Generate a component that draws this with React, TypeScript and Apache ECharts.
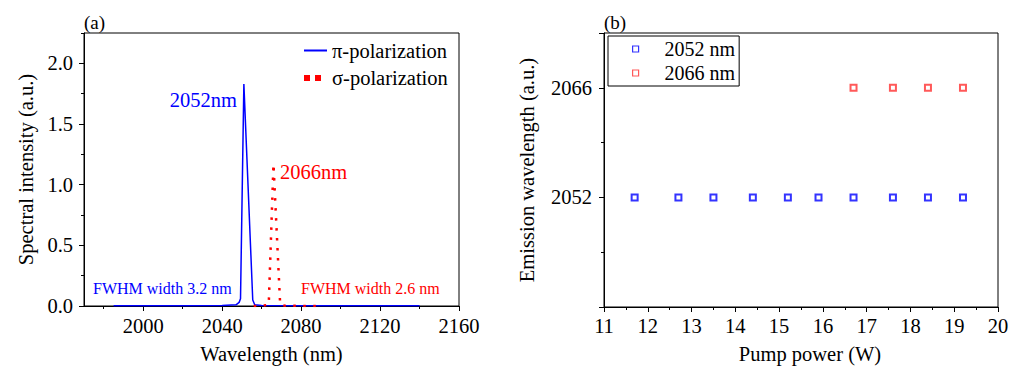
import React, { useEffect, useRef } from "react";
import * as echarts from "echarts";

// ---- Panel (a): spectra ----
const piWavelength = [1985, 2000, 2020, 2040, 2047, 2048.6, 2049.3, 2051, 2055.5, 2056.5, 2060, 2080, 2100, 2120, 2140];
const piIntensity = [0.002, 0.002, 0.003, 0.004, 0.01, 0.03, 0.06, 1.83, 0.05, 0.01, 0.004, 0.003, 0.002, 0.002, 0.002];
const sigmaWavelength = [2056, 2060, 2063.6, 2066, 2069.4, 2072, 2090];
const sigmaIntensity = [0, 0.002, 0.01, 1.17, 0.01, 0.002, 0];
const spectrumTicks = [2000, 2040, 2080, 2120, 2160];
const spectrumMinorTicks = [1980, 2020, 2060, 2100, 2140];
const intensityTicks = [0, 0.5, 1.0, 1.5, 2.0];
const intensityMinorTicks = [0.25, 0.75, 1.25, 1.75, 2.25];

// ---- Panel (b): emission wavelength vs pump power ----
const pumpPower2052 = [11.7, 12.7, 13.5, 14.4, 15.2, 15.9, 16.7, 17.6, 18.4, 19.2];
const emission2052 = [2052, 2052, 2052, 2052, 2052, 2052, 2052, 2052, 2052, 2052];
const pumpPower2066 = [16.7, 17.6, 18.4, 19.2];
const emission2066 = [2066, 2066, 2066, 2066];
const wavelengthLabels = [2052, 2066];

const FONT = "'Liberation Serif', 'Times New Roman', serif";
const BIG = 20.5;
const BLUE = "#0000ff";
const RED = "#ff0000";
const RED2 = "#ff3030";

const zip = (a: number[], b: number[]) => a.map((v, i) => [v, b[i]]);

export default function App() {
  const ref = useRef<HTMLDivElement>(null);
  useEffect(() => {
    document.body.style.margin = "0";
    const chart = echarts.init(ref.current!, null, { renderer: "svg" });
    const axisLine = { show: true, lineStyle: { color: "#000", width: 1 } };
    const nameStyle = { fontFamily: FONT, fontSize: BIG, color: "#000" };
    const labelStyle = { fontFamily: FONT, fontSize: BIG, color: "#000" };
    const option: any = {
      animation: false,
      backgroundColor: "#fff",
      textStyle: { fontFamily: FONT },
      grid: [
        { left: 84, top: 33, width: 375, height: 276, show: true, borderColor: "#000", borderWidth: 1 },
        { left: 604, top: 33, width: 394, height: 276, show: true, borderColor: "#000", borderWidth: 1 },
      ],
      xAxis: [
        {
          gridIndex: 0, type: "value", min: 1970, max: 2160, position: "bottom",
          name: "Wavelength (nm)", nameLocation: "middle", nameGap: 37, nameTextStyle: nameStyle,
          axisLine,
          axisTick: { show: true, inside: false, length: 5, customValues: spectrumTicks, lineStyle: { color: "#000" } },
          axisLabel: { ...labelStyle, margin: 9, customValues: spectrumTicks, formatter: (v: number) => String(v) },
          splitLine: { show: false },
        },
        {
          gridIndex: 0, type: "value", min: 1970, max: 2160, position: "bottom",
          axisLine: { show: false },
          axisTick: { show: true, inside: false, length: 3, customValues: spectrumMinorTicks, lineStyle: { color: "#000" } },
          axisLabel: { show: false },
          splitLine: { show: false },
        },
        {
          gridIndex: 1, type: "value", min: 11, max: 20, interval: 1, position: "bottom",
          name: "Pump power (W)", nameLocation: "middle", nameGap: 36,
          nameTextStyle: { ...nameStyle, padding: [0, 0, 0, 18] },
          axisLine,
          axisTick: { show: true, inside: false, length: 5, lineStyle: { color: "#000" } },
          minorTick: { show: true, splitNumber: 2, length: 3, lineStyle: { color: "#000" } },
          axisLabel: { ...labelStyle, margin: 8, formatter: (v: number) => String(v) },
          splitLine: { show: false },
          minorSplitLine: { show: false },
        },
      ],
      yAxis: [
        {
          gridIndex: 0, type: "value", min: 0, max: 2.25, position: "left",
          name: "Spectral intensity (a.u.)", nameLocation: "middle", nameGap: 48, nameTextStyle: nameStyle,
          axisLine,
          axisTick: { show: true, inside: false, length: 5, customValues: intensityTicks, lineStyle: { color: "#000" } },
          axisLabel: { ...labelStyle, margin: 11, customValues: intensityTicks, formatter: (v: number) => v.toFixed(1) },
          splitLine: { show: false },
        },
        {
          gridIndex: 0, type: "value", min: 0, max: 2.25, position: "left",
          axisLine: { show: false },
          axisTick: { show: true, inside: false, length: 3, customValues: intensityMinorTicks, lineStyle: { color: "#000" } },
          axisLabel: { show: false },
          splitLine: { show: false },
        },
        {
          gridIndex: 1, type: "value", min: 2038, max: 2073, interval: 14, position: "left",
          name: "Emission wavelength (a.u.)", nameLocation: "middle", nameGap: 67, nameTextStyle: nameStyle,
          axisLine,
          axisTick: { show: true, inside: false, length: 5, lineStyle: { color: "#000" } },
          minorTick: { show: true, splitNumber: 2, length: 3, lineStyle: { color: "#000" } },
          axisLabel: {
            ...labelStyle, margin: 12,
            formatter: (v: number) => (wavelengthLabels.indexOf(Math.round(v)) >= 0 ? String(Math.round(v)) : ""),
          },
          splitLine: { show: false },
          minorSplitLine: { show: false },
        },
      ],
      legend: [
        {
          data: [
            { name: "π-polarization", itemStyle: { opacity: 0 } },
            { name: "σ-polarization", itemStyle: { opacity: 0 }, lineStyle: { type: [6, 5, 6, 6], width: 6, color: RED } },
          ],
          orient: "vertical", left: 301, top: 40, padding: 0,
          itemWidth: 23, itemHeight: 14, itemGap: 6.5,
          textStyle: { fontFamily: FONT, fontSize: BIG, color: "#000" },
        },
        {
          data: [
            { name: "2052 nm", icon: "rect", itemStyle: { color: "#fff", borderColor: BLUE, borderWidth: 1.2 } },
            { name: "2066 nm", icon: "rect", itemStyle: { color: "#fff", borderColor: RED2, borderWidth: 1.2 } },
          ],
          orient: "vertical", left: 608, top: 36, padding: [3, 4, 3, 24],
          itemWidth: 6, itemHeight: 6, itemGap: 4,
          borderColor: "#000", borderWidth: 1,
          textStyle: { fontFamily: FONT, fontSize: 20, color: "#000", padding: [0, 0, 0, 21] },
        },
      ],
      series: [
        {
          name: "π-polarization", type: "line", xAxisIndex: 0, yAxisIndex: 0,
          data: zip(piWavelength, piIntensity), symbol: "none", showSymbol: false,
          color: BLUE, lineStyle: { color: BLUE, width: 1.5 },
        },
        {
          name: "σ-polarization", type: "line", xAxisIndex: 0, yAxisIndex: 0,
          data: zip(sigmaWavelength, sigmaIntensity), symbol: "none", showSymbol: false,
          color: RED, lineStyle: { color: RED, width: 2.5, type: [2.5, 7.5] },
        },
        {
          name: "2052 nm", type: "scatter", xAxisIndex: 2, yAxisIndex: 2,
          data: zip(pumpPower2052, emission2052), symbol: "emptyRect", symbolSize: 6,
          color: BLUE, itemStyle: { color: BLUE, borderColor: BLUE, borderWidth: 1.2 },
        },
        {
          name: "2066 nm", type: "scatter", xAxisIndex: 2, yAxisIndex: 2,
          data: zip(pumpPower2066, emission2066), symbol: "emptyRect", symbolSize: 6,
          color: RED2, itemStyle: { color: RED2, borderColor: RED2, borderWidth: 1.2 },
        },
      ],
      graphic: [
        { type: "text", x: 84, y: 22, style: { text: "(a)", fill: "#000", font: `19px ${FONT}`, textAlign: "left", verticalAlign: "middle" } },
        { type: "text", x: 604, y: 22, style: { text: "(b)", fill: "#000", font: `19px ${FONT}`, textAlign: "left", verticalAlign: "middle" } },
        { type: "text", x: 237, y: 100, style: { text: "2052nm", fill: BLUE, font: `${BIG}px ${FONT}`, textAlign: "right", verticalAlign: "middle" } },
        { type: "text", x: 280, y: 172, style: { text: "2066nm", fill: RED, font: `${BIG}px ${FONT}`, textAlign: "left", verticalAlign: "middle" } },
        { type: "text", x: 93, y: 288, style: { text: "FWHM width 3.2 nm", fill: BLUE, font: `16px ${FONT}`, textAlign: "left", verticalAlign: "middle" } },
        { type: "text", x: 301, y: 288, style: { text: "FWHM width 2.6 nm", fill: RED, font: `16px ${FONT}`, textAlign: "left", verticalAlign: "middle" } },
      ],
    };
    chart.setOption(option);
    return () => chart.dispose();
  }, []);
  return <div ref={ref} style={{ width: 1023, height: 369 }} />;
}
